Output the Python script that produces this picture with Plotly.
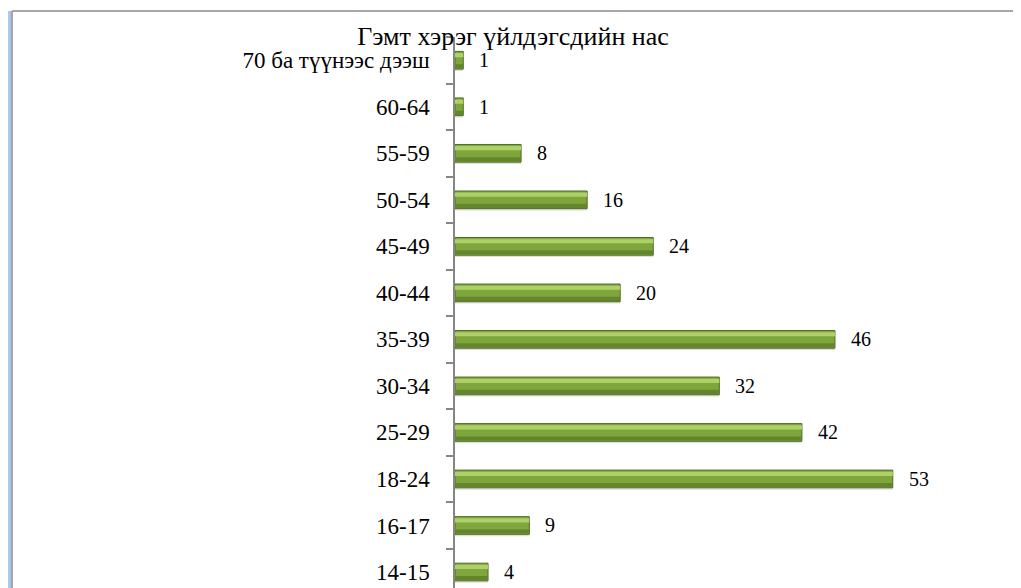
import plotly.graph_objects as go

categories = ["14-15", "16-17", "18-24", "25-29", "30-34", "35-39", "40-44",
              "45-49", "50-54", "55-59", "60-64", "70 ба түүнээс дээш"]
values = [4, 9, 53, 42, 32, 46, 20, 24, 16, 8, 1, 1]
title_text = "Гэмт хэрэг үйлдэгсдийн нас"

SERIF = "Liberation Serif"
OFF = 8  # page body margin offset
W, H = 1021 - OFF, 588 - OFF
ML, MR, MT, MB = 455 - OFF, 21, 37 - OFF, 0
PW, PH = W - ML - MR, H - MT - MB


def px_x(x):
    return (x - OFF - ML) / PW


def px_y(y):
    return (H - MB - (y - OFF)) / PH


fig = go.Figure()

# shadow
fig.add_trace(go.Bar(y=categories, x=values, orientation="h", width=0.38, offset=-0.23,
                     marker=dict(color="rgba(0,0,0,0.13)", line=dict(width=0)),
                     hoverinfo="skip", showlegend=False))
# base bar
fig.add_trace(go.Bar(y=categories, x=values, orientation="h", width=0.38, offset=-0.19,
                     marker=dict(color="#7fa63c", line=dict(color="#4f6e25", width=1)),
                     hoverinfo="skip", showlegend=False))
# bottom darker band
fig.add_trace(go.Bar(y=categories, x=values, orientation="h", width=0.09, offset=-0.175,
                     marker=dict(color="#63862c", line=dict(width=0)),
                     hoverinfo="skip", showlegend=False))
# top highlight band
fig.add_trace(go.Bar(y=categories, x=values, orientation="h", width=0.09, offset=0.065,
                     marker=dict(color="#aed068", line=dict(width=0)),
                     hoverinfo="skip", showlegend=False))

annotations = []
for c, v in zip(categories, values):
    annotations.append(dict(x=v, y=c, xref="x", yref="y", text=str(v), showarrow=False,
                            xanchor="left", yanchor="middle", xshift=14,
                            font=dict(family=SERIF, size=20, color="#000000")))

shapes = [
    # blue glow on the left
    dict(type="line", xref="paper", yref="paper", x0=px_x(5), x1=px_x(5), y0=px_y(11), y1=px_y(600),
         line=dict(color="#e4eefb", width=2)),
    dict(type="line", xref="paper", yref="paper", x0=px_x(7), x1=px_x(7), y0=px_y(11), y1=px_y(600),
         line=dict(color="#c6dcf7", width=2)),
    dict(type="line", xref="paper", yref="paper", x0=px_x(9), x1=px_x(9), y0=px_y(11), y1=px_y(600),
         line=dict(color="#aac9f1", width=2)),
    dict(type="line", xref="paper", yref="paper", x0=px_x(10.5), x1=px_x(10.5), y0=px_y(11), y1=px_y(600),
         line=dict(color="#9dbfee", width=1)),
    # frame
    dict(type="line", xref="paper", yref="paper", x0=px_x(12), x1=px_x(12), y0=px_y(11), y1=px_y(600),
         line=dict(color="#8a8a8a", width=1.5)),
    dict(type="line", xref="paper", yref="paper", x0=px_x(12), x1=px_x(1030), y0=px_y(11), y1=px_y(11),
         line=dict(color="#8a8a8a", width=1.5)),
]

fig.update_layout(
    width=W, height=H,
    margin=dict(l=ML, r=MR, t=MT, b=MB, autoexpand=False),
    paper_bgcolor="white", plot_bgcolor="white",
    barmode="overlay",
    title=dict(text=title_text, x=(513 - OFF) / W, xref="container", xanchor="center",
               y=1 - (36 - OFF) / H, yref="container", yanchor="middle", automargin=False,
               font=dict(family=SERIF, size=26, color="#000000")),
    xaxis=dict(range=[0, PW / 8.26], showgrid=False, zeroline=False, showline=False,
               showticklabels=False, ticks="", automargin=False),
    yaxis=dict(type="category", categoryorder="array", categoryarray=categories,
               range=[-0.344, 11.5], showgrid=False, zeroline=False, automargin=False,
               showline=True, linecolor="#868686", linewidth=1.5,
               ticks="outside", ticklen=7, tickcolor="#868686", tickwidth=1.5,
               tickson="boundaries", ticklabelstandoff=19,
               tickfont=dict(family=SERIF, size=23, color="#000000")),
    annotations=annotations,
    shapes=shapes,
)

fig.write_html("out.html")
